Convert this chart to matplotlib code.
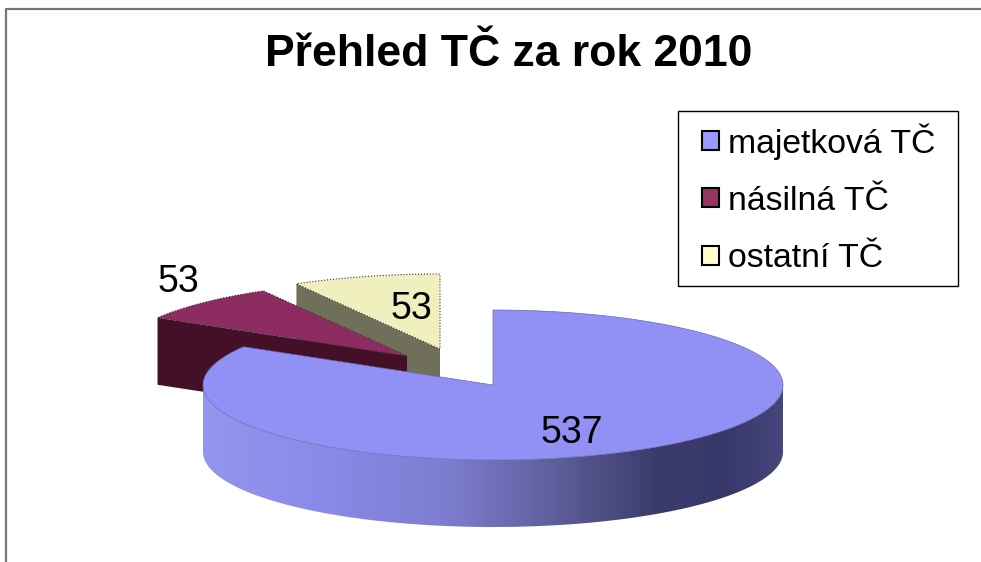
import numpy as np
import matplotlib
matplotlib.use("Agg")
from matplotlib import pyplot as plt
from matplotlib.patches import Polygon, Patch, Rectangle
from matplotlib.colors import LinearSegmentedColormap

plt.rcParams['font.family'] = ['Liberation Sans', 'DejaVu Sans']

# data
labels = ["majetková TČ", "násilná TČ", "ostatní TČ"]
values = [537, 53, 53]
title = "Přehled TČ za rok 2010"

legend_colors = ["#9999ff", "#993366", "#ffffcc"]
top_colors = ["#9090f5", "#8c2c60", "#f0f0be"]
side_colors = [None, "#431028", "#70705a"]

# pie geometry in pixels
rx = 290
ry = 75
depth = 67
centers = [(493, 385), (407, 356), (440, 349)]


def ell(c, t):
    # t is clockwise from 12 o'clock, squashed pie
    return np.column_stack([c[0] + rx * np.sin(t), c[1] - ry * np.cos(t)])


fig = plt.figure(figsize=(9.81, 5.62), dpi=100)
ax = fig.add_axes([0, 0, 1, 1])
ax.set_xlim(0, 981)
ax.set_ylim(562, 0)
ax.axis('off')

# chart frame, only left and top show up
ax.plot([6, 6, 981], [562, 9, 9], color='#777777', lw=1.6, zorder=1)

ends = np.cumsum(values) / np.sum(values) * 2 * np.pi
starts = ends - np.array(values) / np.sum(values) * 2 * np.pi

# small slices first, the big one covers them
for i in [2, 1]:
    c = centers[i]
    t = np.linspace(starts[i], ends[i], 60)
    arc = ell(c, t)
    cut = ell(c, np.array([starts[i]]))[0]
    # inner side face on the starting edge
    side = np.array([cut, c, (c[0], c[1] + depth), (cut[0], cut[1] + depth)])
    ax.add_patch(Polygon(side, closed=True, facecolor=side_colors[i], edgecolor='none', zorder=2 + (2 - i)))
    top = np.vstack([[c], arc])
    ax.add_patch(Polygon(top, closed=True, facecolor=top_colors[i], edgecolor='#333333', lw=0.8, ls=':', zorder=2 + (2 - i)))

# big slice side with gradient
c = centers[0]
t = np.linspace(np.pi / 2, 3 * np.pi / 2, 200)
upper = ell(c, t)
lower = upper[::-1] + [0, depth]
side_path = Polygon(np.vstack([upper, lower]), closed=True, facecolor='none', edgecolor='none')
ax.add_patch(side_path)
side_cmap = LinearSegmentedColormap.from_list("side", [
    (0.0, "#9595ee"), (0.2, "#8a8aea"), (0.42, "#7d7dd0"), (0.6, "#5f5f9c"),
    (0.78, "#3c3c6c"), (0.9, "#37376a"), (1.0, "#46467c")])
grad = ax.imshow(np.linspace(0, 1, 256).reshape(1, -1), cmap=side_cmap, aspect='auto',
                 extent=(203, 783, 527, 385), zorder=5)
grad.set_clip_path(side_path)
ax.set_xlim(0, 981)
ax.set_ylim(562, 0)

t = np.linspace(starts[0], ends[0], 300)
top = np.vstack([[c], ell(c, t)])
ax.add_patch(Polygon(top, closed=True, facecolor=top_colors[0], edgecolor='#6a6aa8', lw=0.5, zorder=6))

# value labels
ax.text(572, 433, str(values[0]), fontsize=27, ha='center', va='center', zorder=7)
ax.text(178, 282, str(values[1]), fontsize=27, ha='center', va='center', zorder=7)
ax.text(411, 309, str(values[2]), fontsize=27, ha='center', va='center', zorder=7)

ax.text(509, 55, title, fontsize=32, fontweight='bold', ha='center', va='center')

# legend box drawn apart so the padding can differ from the row spacing
ax.add_patch(Rectangle((678, 111), 280, 175, facecolor='white', edgecolor='black', lw=1, zorder=8))
handles = [Patch(facecolor=legend_colors[i], edgecolor='black', lw=1.5, label=labels[i]) for i in range(3)]
leg = ax.legend(handles=handles, loc='upper left', bbox_to_anchor=(702, 123),
                bbox_transform=ax.transData, fontsize=24.3, frameon=False, borderpad=0,
                labelspacing=0.78, handlelength=0.5, handleheight=0.5, handletextpad=0.27,
                borderaxespad=0)
leg.set_zorder(9)

fig.savefig("out.png", dpi=100)
